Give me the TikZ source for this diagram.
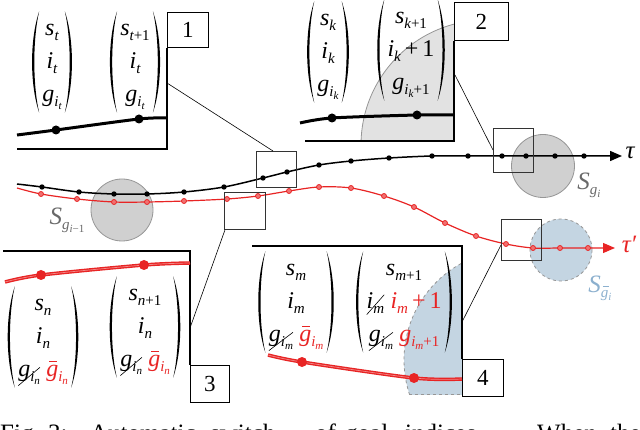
\documentclass[tikz,border=0pt]{standalone}
\usepackage{fontspec}
\setmainfont{Liberation Serif}
\newfontfamily\tms{Liberation Serif}
\newfontfamily\tmsi{Liberation Serif Italic}
\usetikzlibrary{arrows.meta,calc}
\definecolor{myred}{RGB}{232,36,36}
\definecolor{cgray}{RGB}{208,208,208}
\definecolor{cgrayl}{RGB}{226,226,226}
\definecolor{cgrayb}{RGB}{150,150,150}
\definecolor{cblue}{RGB}{196,213,226}
\definecolor{lblue}{RGB}{140,176,206}
\definecolor{lgray}{RGB}{105,105,105}
% first- and second-level subscripts, set as text
\newcommand\sa[1]{\raisebox{-5pt}{\fontsize{15}{15}\selectfont #1}}
\newcommand\sbb[1]{\raisebox{-3pt}{\fontsize{11}{11}\selectfont #1}}
\newcommand\up[1]{{\tms #1}}
\newcommand\gb{{\rlap{\hspace{3pt}\rule[14.5pt]{8pt}{0.9pt}}g}}
\newcommand\rows[3]{\begin{tabular}{@{}c@{}}#1\\#2\\#3\end{tabular}}
\newcommand\strk[1]{\tikz[baseline=(sk.base)]{\node[inner sep=0pt,outer sep=0pt,text=black](sk){#1};\draw[line width=0.6pt,black]([yshift=-1pt]sk.south west)--([yshift=-2pt]sk.north east);}}
% parentheses drawn round a vector node
\newcommand\parens[1]{%
  \fill ($(#1.north west)+(8,0)$) .. controls ($(#1.north west)+(-1.5,28)$) and ($(#1.south west)+(-1.5,-28)$) .. ($(#1.south west)+(8,0)$)
     .. controls ($(#1.south west)+(1.5,-28)$) and ($(#1.north west)+(1.5,28)$) .. cycle;
  \fill ($(#1.north east)+(-8,0)$) .. controls ($(#1.north east)+(1.5,28)$) and ($(#1.south east)+(1.5,-28)$) .. ($(#1.south east)+(-8,0)$)
     .. controls ($(#1.south east)+(-1.5,-28)$) and ($(#1.north east)+(-1.5,28)$) .. cycle;}
\begin{document}
\begin{tikzpicture}[x=1pt,y=-1pt,
  vec/.style={inner xsep=11pt,inner ysep=1pt,font=\fontsize{24}{33}\tmsi},
  numbox/.style={draw=black,line width=0.9pt,anchor=north west,inner sep=0pt,font=\fontsize{23}{26}\tms},
  zbox/.style={draw=black!80,line width=0.8pt,anchor=north west,inner sep=0pt},
  panel/.style={draw=black,line width=1.1pt},
  conn/.style={draw=black,line width=0.6pt},
  gcirc/.style={fill=cgray,draw=cgrayb,line width=0.8pt},
  gcircl/.style={fill=cgrayl,draw=cgrayb,line width=0.8pt},
  bcirc/.style={fill=cblue,draw=cgrayb,dashed,line width=0.8pt},
  mainblack/.style={draw=black,line width=1.5pt,-{Triangle[length=12pt,width=10pt]}},
  mainred/.style={draw=myred,line width=1.2pt,-{Triangle[length=12pt,width=10pt]}},
  pblack/.style={draw=black,line width=3pt},
  pred/.style={draw=myred,line width=1.4pt,double=myred!55!white,double distance=0.7pt},
  lab/.style={inner sep=0pt,font=\fontsize{25}{28}\tmsi}
]
\useasboundingbox (0,0) rectangle (640,430);

% ---------- circles ----------
\filldraw[gcirc] (122,210) circle[radius=31pt];
\filldraw[gcirc] (543,166) circle[radius=31.5pt];
\filldraw[bcirc] (561,250) circle[radius=31pt];
\begin{scope}
  \clip (300,0) rectangle (454,141);
  \filldraw[gcircl] (486,145) circle[radius=125pt];
\end{scope}
\begin{scope}
  \clip (380,246) rectangle (462,394);
  \filldraw[bcirc] (514,360) circle[radius=110pt];
\end{scope}
\draw[cgrayb,dashed,line width=0.8pt] (409,394) -- (462,394);

% ---------- main trajectories ----------
\draw[mainblack] plot[smooth,tension=0.55] coordinates {(17,184) (42,187) (79,192) (114,194) (147,194) (184,192) (224,187) (263,178) (287,172) (319,165) (351,161) (389,158) (432,156) (468,156) (502,156) (526,156) (555,156) (584,156) (622,156)};
\foreach \x/\y in {42/187,79/192,114/194,147/194,184/192,224/187,263/178,287/172,319/165,351/161,389/158,432/156,468/156,502/156,526/156,555/156,584/156}
  \fill (\x,\y) circle[radius=2.7pt];
\draw[mainred] plot[smooth,tension=0.55] coordinates {(17,188) (41,194) (77,199) (114,202) (147,202) (184,201) (227,199) (258,196) (289,191) (319,187) (351,188) (384,196) (414,207) (445,223) (476,236) (506,244) (533,248) (560,248) (588,248) (615,248)};
\foreach \x/\y in {41/194,77/199,114/202,147/202,184/201,227/199,258/196,289/191,319/187,351/188,384/196,414/207,445/223,476/236,506/244,533/248,560/248,588/248}
  \filldraw[draw=myred,fill=myred!65!white,line width=0.8pt] (\x,\y) circle[radius=2.5pt];

% labels on main plot
\node[lab] (tau) at (630,153) {τ};
\node[lab,text=myred] (taup) at (629,244) {τ′};
\node[lab,text=lgray] (sgm) at (67,220) {S\sa{g\sbb{i\up{−1}}}};
\node[lab,text=lgray] (sg) at (589,185) {S\sa{g\sbb{i}}};
\node[lab,text=lblue] (sgb) at (600,288) {S\sa{\rlap{\hspace{2pt}\rule[10pt]{6pt}{0.7pt}}g\sbb{i}}};

% zoom boxes on the trajectories
\node[zbox,minimum width=40pt,minimum height=36pt] (z1) at (256,151) {};
\node[zbox,minimum width=40pt,minimum height=44pt] (z2) at (493,128) {};
\node[zbox,minimum width=41pt,minimum height=37pt] (z3) at (224,192) {};
\node[zbox,minimum width=40pt,minimum height=41pt] (z4) at (501,219) {};

% ---------- panel 1 ----------
\node[numbox,minimum width=41pt,minimum height=35pt] (n1) at (167,12) {1};
\draw[panel] (17,149) -- (167,149) -- (n1.south west);
\draw[pblack] plot[smooth,tension=0.5] coordinates {(17,135) (56,130) (139,119) (167,118)};
\fill (56,130) circle[radius=4.5pt];
\fill (139,119) circle[radius=4.5pt];
\node[vec] (v1a) at (52,62) {\rows{s\sa{t}}{i\sa{t}}{g\sa{i\sbb{t}}}};
\node[vec] (v1b) at (135,62) {\rows{s\sa{t\up{+1}}}{i\sa{t}}{g\sa{i\sbb{t}}}};
\parens{v1a} \parens{v1b}
\coordinate (c1) at (167,83);
\draw[conn] (c1) -- ($(z1.north west)+(17,0)$);

% ---------- panel 2 ----------
\node[numbox,minimum width=54pt,minimum height=38pt] (n2) at (454,2) {2};
\draw[panel] (305,141) -- (454,141) -- (n2.south west);
\draw[pblack] plot[smooth,tension=0.5] coordinates {(300,123) (332,118) (417,115) (454,115)};
\fill (332,118) circle[radius=4.5pt];
\fill (417,115) circle[radius=4.5pt];
\node[vec] (v2a) at (328,52) {\rows{s\sa{k}}{i\sa{k}}{g\sa{i\sbb{k}}}};
\node[vec] (v2b) at (411,50) {\rows{s\sa{k\up{+1}}}{i\sa{k}\up{\,+\,1}}{g\sa{i\sbb{k}\up{+1}}}};
\parens{v2a} \parens{v2b}
\coordinate (c2) at (455,75);
\draw[conn] (c2) -- ($(z2.north west)+(0,22)$);

% ---------- panel 3 ----------
\node[numbox,minimum width=39pt,minimum height=37pt] (n3) at (190,365) {\tms 3};
\draw[panel] (3,251) -- (190,251) -- (n3.north west);
\draw[pred] plot[smooth,tension=0.5] coordinates {(5,282) (41,275) (144,265) (190,263)};
\fill[myred] (41,275) circle[radius=5pt];
\fill[myred] (144,265) circle[radius=5pt];
\node[vec] (v3a) at (43,337) {\rows{s\sa{n}}{i\sa{n}}{\strk{g\sa{i\sbb{n}}}\ \textcolor{myred}{\gb\sa{i\sbb{n}}}}};
\node[vec] (v3b) at (145,327) {\rows{s\sa{n\up{+1}}}{i\sa{n}}{\strk{g\sa{i\sbb{n}}}\ \textcolor{myred}{\gb\sa{i\sbb{n}}}}};
\parens{v3a} \parens{v3b}
\coordinate (c3) at (190,328);
\draw[conn] (c3) -- ($(z3.south west)+(1,0)$);

% ---------- panel 4 ----------
\node[numbox,minimum width=41pt,minimum height=37pt] (n4) at (462,359) {4};
\draw[panel] (252,246) -- (462,246) -- (n4.north west);
\draw[pred] plot[smooth,tension=0.5] coordinates {(268,355) (302,362) (414,378) (462,379)};
\fill[myred] (302,362) circle[radius=5pt];
\fill[myred] (414,378) circle[radius=5pt];
\node[vec] (v4a) at (296,302) {\rows{s\sa{m}}{i\sa{m}}{\strk{g\sa{i\sbb{m}}}\ \textcolor{myred}{\gb\sa{i\sbb{m}}}}};
\node[vec] (v4b) at (404,302) {\rows{s\sa{m\up{+1}}}{\strk{i\sa{m}}\ \textcolor{myred}{i\sa{m}\up{\,+\,1}}}{\strk{g\sa{i\sbb{m}}}\ \textcolor{myred}{g\sa{i\sbb{m}\up{+1}}}}};
\parens{v4a} \parens{v4b}
\coordinate (c4) at (462,322);
\draw[conn] (c4) -- ($(z4.north west)+(0,26)$);

% ---------- caption (cut off by the frame) ----------
\node[anchor=base west,inner sep=0pt,font=\fontsize{25}{30}\tms] (cap) at (0,441) {\makebox[90pt][l]{Fig. 3:}\makebox[120pt][l]{Automatic}\makebox[105pt][l]{switch}\makebox[30pt][l]{of}\makebox[60pt][l]{goal}\makebox[132pt][l]{indices.}\makebox[73pt][l]{When}the};
\end{tikzpicture}
\end{document}
